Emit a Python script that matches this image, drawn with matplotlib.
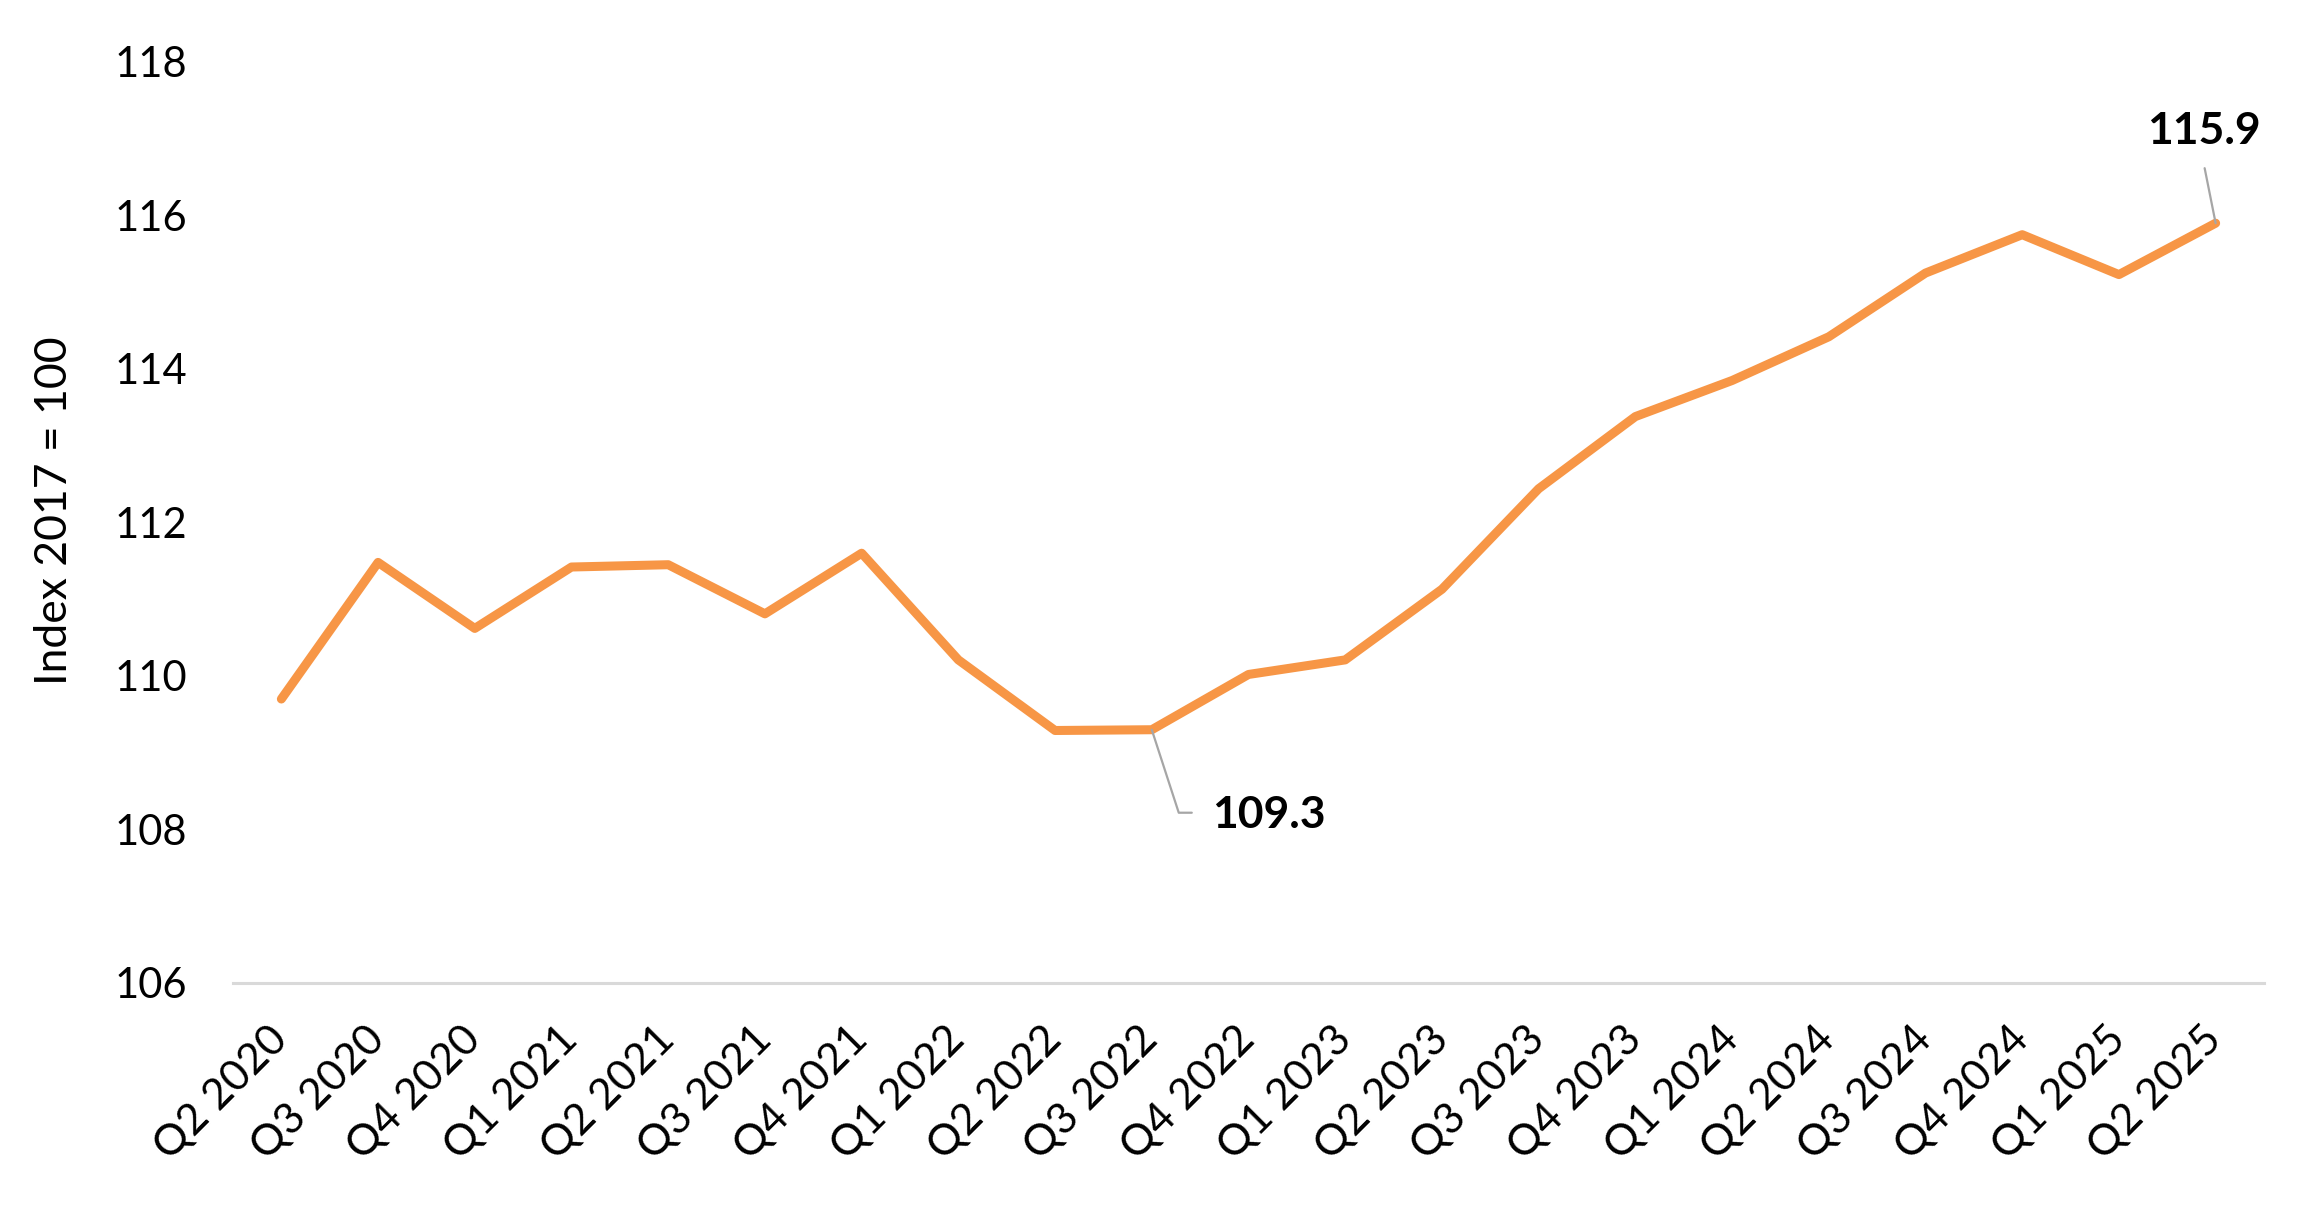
import matplotlib
matplotlib.use("Agg")
import matplotlib.pyplot as plt

quarters = ["Q2 2020", "Q3 2020", "Q4 2020", "Q1 2021", "Q2 2021", "Q3 2021", "Q4 2021",
            "Q1 2022", "Q2 2022", "Q3 2022", "Q4 2022", "Q1 2023", "Q2 2023", "Q3 2023",
            "Q4 2023", "Q1 2024", "Q2 2024", "Q3 2024", "Q4 2024", "Q1 2025", "Q2 2025"]
index_values = [109.7, 111.48, 110.62, 111.42, 111.45, 110.81, 111.6,
                110.21, 109.29, 109.3, 110.02, 110.21, 111.13, 112.44,
                113.38, 113.85, 114.42, 115.25, 115.75, 115.23, 115.9]
yticks = [106, 108, 110, 112, 114, 116, 118]
ylabel = "Index 2017 = 100"

plt.rcParams['font.family'] = ['Lato', 'DejaVu Sans']

fig = plt.figure(figsize=(23.15, 12.12), dpi=100)
ax = fig.add_axes([233/2315, 1-983/1212, (2264-233)/2315, (983-62)/1212])

x = list(range(len(quarters)))
ax.plot(x, index_values, color="#F79646", linewidth=6.5, solid_joinstyle="round",
        solid_capstyle="round", zorder=3)

ax.set_xlim(-0.5, len(quarters) - 0.5)
ax.set_ylim(106, 118)
ax.set_yticks(yticks)
ax.set_yticklabels([str(v) for v in yticks], fontsize=30)
ax.set_xticks(x)
ax.set_xticklabels(quarters, rotation=45, ha="right", va="center",
                   rotation_mode="anchor", fontsize=31)
ax.tick_params(axis="both", length=0)
ax.tick_params(axis="y", pad=33)
ax.tick_params(axis="x", pad=36)

for s in ["top", "right", "left"]:
    ax.spines[s].set_visible(False)
ax.spines["bottom"].set_color("#D9D9D9")
ax.spines["bottom"].set_linewidth(2.2)

fig.text(55/2315, 1-(62+983)/2/1212 + 0.01, ylabel, rotation=90, fontsize=32,
         ha="center", va="center")

gray = "#A6A6A6"
# label for the minimum (Q3 2022)
i_min = 9
ax.annotate("", xy=(i_min, index_values[i_min]), xytext=(40, -83),
            textcoords="offset pixels",
            arrowprops=dict(arrowstyle="-", color=gray, lw=1.6, shrinkA=0, shrinkB=0,
                            connectionstyle="angle,angleA=0,angleB=-72,rad=0"))
ax.annotate(f"{index_values[i_min]:.1f}", xy=(i_min, index_values[i_min]),
            xytext=(60, -85), textcoords="offset pixels", fontsize=32,
            fontweight="bold", ha="left", va="center")

# label for the last value
i_last = len(quarters) - 1
ax.annotate("", xy=(i_last, index_values[i_last]), xytext=(-11, 55),
            textcoords="offset pixels",
            arrowprops=dict(arrowstyle="-", color=gray, lw=1.6, shrinkA=0, shrinkB=0))
ax.annotate(f"{index_values[i_last]:.1f}", xy=(i_last, index_values[i_last]),
            xytext=(-12, 92), textcoords="offset pixels", fontsize=32,
            fontweight="bold", ha="center", va="center", annotation_clip=False)

fig.savefig("out.png", dpi=100)
